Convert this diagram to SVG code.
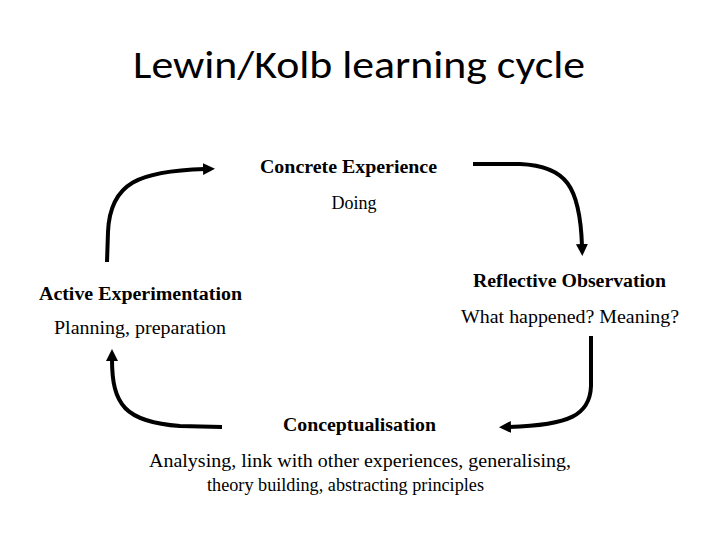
<svg xmlns="http://www.w3.org/2000/svg" width="720" height="540" viewBox="0 0 720 540">
<style>
.t{font-family:"Liberation Serif","Times New Roman",serif;font-size:18px;fill:#000}
.b{font-weight:bold}
.c{fill:none;stroke:#000;stroke-width:4;stroke-linecap:butt}
</style>
<defs>
<marker id="ah" markerUnits="userSpaceOnUse" markerWidth="14" markerHeight="14" refX="2" refY="6" orient="auto">
<path d="M0,0 L12,6 L0,12 z" fill="#000"/>
</marker>
</defs>
<rect width="720" height="540" fill="#fff"/>
<text x="359" y="78" text-anchor="middle" font-family="Carlito,'Open Sans','Liberation Sans',sans-serif" font-size="38" textLength="452" lengthAdjust="spacingAndGlyphs">Lewin/Kolb learning cycle</text>
<g id="connectors">
<path class="c" d="M107,262 L108,232 C110,182 140,171 205,169" marker-end="url(#ah)"/>
<path class="c" d="M473,164 L520,164 C566,166 580,186 582,246" marker-end="url(#ah)"/>
<path class="c" d="M591,336 L591,386 C590,415 570,425 509,427" marker-end="url(#ah)"/>
<path class="c" d="M222,427 L180,426 C125,422 112,405 112,359" marker-end="url(#ah)"/>
</g>
<g id="concrete">
<text class="t b" x="260" y="173" textLength="177" lengthAdjust="spacingAndGlyphs">Concrete Experience</text>
<text class="t" x="354" y="209" text-anchor="middle">Doing</text>
</g>
<g id="reflective">
<text class="t b" x="473" y="287" textLength="193" lengthAdjust="spacingAndGlyphs">Reflective Observation</text>
<text class="t" x="461" y="323" textLength="218" lengthAdjust="spacingAndGlyphs">What happened? Meaning?</text>
</g>
<g id="active">
<text class="t b" x="39" y="300" textLength="203" lengthAdjust="spacingAndGlyphs">Active Experimentation</text>
<text class="t" x="54" y="334" textLength="172" lengthAdjust="spacingAndGlyphs">Planning, preparation</text>
</g>
<g id="conceptualisation">
<text class="t b" x="283" y="431" textLength="153" lengthAdjust="spacingAndGlyphs">Conceptualisation</text>
<text class="t" x="149" y="467" textLength="422" lengthAdjust="spacingAndGlyphs">Analysing, link with other experiences, generalising,</text>
<text class="t" x="207" y="491" textLength="277" lengthAdjust="spacingAndGlyphs">theory building, abstracting principles</text>
</g>
</svg>
